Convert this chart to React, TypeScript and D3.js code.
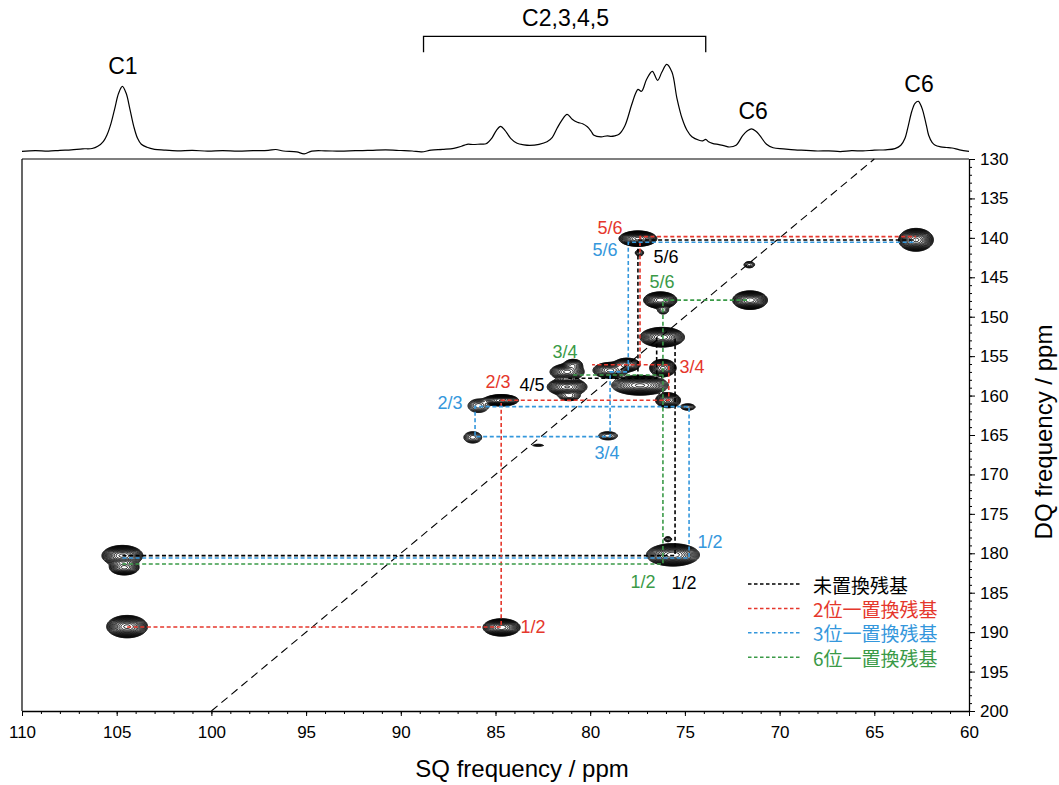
import React, { useEffect, useRef } from 'react'
import * as d3 from 'd3'

const WIDTH = 1059
const HEIGHT = 785
const PLOT = { left: 22, right: 969, top: 159, bottom: 711 }

const RED = '#e5372c'
const BLUE = '#3497dc'
const GREEN = '#3a9a47'
const BLACK = '#000000'
const FONT = 'Arial, "Liberation Sans", sans-serif'
const CJK = '"Noto Sans CJK JP", "Noto Sans CJK SC", sans-serif'

const sqMajor = [110, 105, 100, 95, 90, 85, 80, 75, 70, 65, 60]
const dqMajor = [130, 135, 140, 145, 150, 155, 160, 165, 170, 175, 180, 185, 190, 195, 200]

// 1D projection on top: [ppm, height]
const projection: [number, number][] = [
  [110.0, 0], [109.3, 0.6], [108.6, 0.2], [108.0, 1.0], [107.4, 1.5], [106.8, 2.5], [106.3, 2.8],
  [106.0, 5], [105.7, 10], [105.5, 17], [105.3, 28], [105.1, 43], [104.9, 58], [104.7, 65],
  [104.5, 58], [104.3, 42], [104.1, 25], [103.9, 13], [103.7, 7], [103.4, 4], [103.0, 2],
  [102.5, 1.2], [101.8, 0.5], [101.0, 0.9], [100.2, 0.2], [99.4, 0.7], [98.6, 0.1], [97.8, 0.6],
  [97.0, 0.9], [96.6, 1.8], [96.2, 0.3], [95.5, -0.5], [95.1, -2.5], [94.7, 0.2], [94.0, 0.5],
  [93.2, 0.1], [92.4, 0.6], [91.6, 0.9], [90.8, 1.4], [90.0, 0.8], [89.4, 0.3], [88.9, -0.6],
  [88.4, 1.2], [87.8, 2], [87.2, 3], [86.8, 5], [86.5, 7], [86.19, 6.8], [85.8, 7.2], [85.5, 7.5],
  [85.2, 13], [84.95, 21], [84.73, 25], [84.5, 21], [84.2, 13], [83.86, 8], [83.5, 6.5],
  [83.19, 6], [82.7, 7], [82.28, 9.5], [82.0, 14], [81.75, 23], [81.5, 31], [81.22, 37],
  [80.95, 32], [80.68, 29], [80.4, 27.5], [80.15, 24.5], [79.95, 20], [79.8, 16], [79.43, 14.5],
  [79.1, 15.5], [78.9, 15], [78.7, 15.5], [78.48, 17], [78.18, 25], [77.82, 46], [77.6, 58],
  [77.48, 62], [77.29, 60], [77.02, 72], [76.72, 80], [76.44, 71], [76.22, 79], [75.96, 87],
  [75.68, 79], [75.42, 53], [75.15, 33], [74.89, 21], [74.63, 14.5], [74.25, 11], [74.05, 10.5],
  [73.9, 12], [73.75, 9.5], [73.55, 8], [73.2, 6.7], [72.9, 5.5], [72.66, 4.3], [72.3, 6],
  [71.94, 16], [71.7, 20.5], [71.49, 22.5], [71.25, 20], [71.05, 16], [70.69, 7], [70.34, 3.5],
  [69.8, 2.5], [69.2, 1.5], [68.6, 1.0], [68.0, 0.3], [67.4, 0.5], [66.8, -0.3], [66.2, 0.6],
  [65.6, 0.4], [65.0, 1.2], [64.4, 1.5], [63.91, 2.7], [63.6, 6], [63.38, 13], [63.2, 26],
  [63.02, 40], [62.85, 48], [62.67, 50], [62.5, 44], [62.4, 38], [62.25, 26], [62.13, 16],
  [61.95, 9], [61.78, 6], [61.5, 4.5], [61.2, 3.8], [60.9, 3.3], [60.5, 1.5], [60.0, 0]
]

// labels over the projection: [text, ppm, height]
const projLabels: [string, number, number][] = [
  ['C1', 104.67, 85], ['C2,3,4,5', 81.3, 133], ['C6', 71.4, 40], ['C6', 62.64, 67]
]
const bracketSq = [88.8, 73.9]
const bracketH = [99, 115]

// cross peaks: [sq, dq, half width sq, half width dq, amplitude]
const crossPeaks: [number, number, number, number, number][] = [
  [77.48, 140.1, 1.0, 0.98, 40],
  [77.4, 141.9, 0.22, 0.4, 3],
  [62.8, 140.25, 0.92, 1.45, 40],
  [71.6, 143.4, 0.28, 0.4, 3],
  [76.3, 147.9, 0.88, 1.05, 35],
  [76.15, 149.2, 0.28, 0.46, 3],
  [71.56, 147.9, 0.92, 1.18, 35],
  [76.2, 152.6, 1.18, 1.25, 45],
  [81.22, 157.0, 0.9, 1.0, 20],
  [81.22, 158.9, 1.05, 1.1, 30],
  [81.1, 160.1, 0.55, 0.55, 6],
  [80.9, 156.1, 0.48, 0.7, 8],
  [78.95, 156.8, 0.9, 1.0, 20],
  [78.06, 156.1, 0.7, 0.85, 15],
  [77.37, 158.7, 1.5, 1.25, 40],
  [76.16, 156.5, 0.7, 1.1, 25],
  [75.89, 160.6, 0.66, 0.95, 20],
  [74.84, 161.45, 0.38, 0.4, 4],
  [84.7, 160.6, 0.92, 0.72, 30],
  [85.9, 161.3, 0.55, 0.85, 5],
  [86.2, 165.3, 0.47, 0.72, 5],
  [79.06, 165.1, 0.5, 0.52, 4],
  [82.75, 166.3, 0.3, 0.12, 2],
  [104.7, 180.3, 1.08, 1.3, 40],
  [104.6, 181.8, 0.78, 0.95, 20],
  [75.63, 180.2, 1.4, 1.42, 45],
  [75.9, 178.2, 0.2, 0.3, 3],
  [104.45, 189.3, 1.08, 1.42, 40],
  [84.68, 189.4, 0.98, 1.1, 35]
]

// DQ = 2 x SQ diagonal
const diagonal: [number, number][] = [[100, 200], [65, 130]]

// correlation walks, [sq, dq] points
const blackLinks: [number, number][][] = [
  [[104.7, 180.3], [75.52, 180.3], [75.52, 152.6]],
  [[76.49, 152.6], [76.49, 157.8], [81.2, 157.8]],
  [[77.48, 157.8], [77.48, 140.27], [62.8, 140.27]]
]
const redLinks: [number, number][][] = [
  [[104.45, 189.35], [84.7, 189.35], [84.7, 160.6], [75.85, 160.6], [75.85, 156.1], [79.9, 156.1]],
  [[77.37, 156.1], [77.37, 139.85], [62.8, 139.85]]
]
const blueLinks: [number, number][][] = [
  [[104.7, 180.6], [74.78, 180.6], [74.78, 161.4], [86.08, 161.4], [86.08, 165.2], [78.95, 165.2],
    [78.95, 157.0], [77.99, 157.0], [77.99, 140.56], [62.8, 140.56]]
]
const greenLinks: [number, number][][] = [
  [[104.7, 181.35], [76.16, 181.35], [76.16, 147.9], [71.56, 147.9]],
  [[80.9, 157.4], [76.16, 157.4]]
]
const linkSets: [[number, number][][], string][] = [
  [blackLinks, BLACK], [redLinks, RED], [blueLinks, BLUE], [greenLinks, GREEN]
]

// assignment labels: [text, sq, dq, colour]
const crossLabels: [string, number, number, string][] = [
  ['5/6', 78.96, 138.75, RED],
  ['5/6', 79.22, 141.54, BLUE],
  ['5/6', 76.0, 142.43, BLACK],
  ['5/6', 76.21, 145.6, GREEN],
  ['3/4', 81.33, 154.47, GREEN],
  ['3/4', 74.63, 156.38, RED],
  ['2/3', 84.87, 158.28, RED],
  ['4/5', 83.07, 158.66, BLACK],
  ['2/3', 87.4, 160.94, BLUE],
  ['3/4', 79.11, 167.28, BLUE],
  ['1/2', 73.67, 178.57, BLUE],
  ['1/2', 77.21, 183.64, GREEN],
  ['1/2', 75.05, 183.77, BLACK],
  ['1/2', 83.02, 189.35, RED]
]

const legendItems: [string, string][] = [
  ['未置換残基', BLACK], ['2位一置換残基', RED], ['3位一置換残基', BLUE], ['6位一置換残基', GREEN]
]

function DqSpectrum() {
  const ref = useRef<SVGSVGElement>(null)

  useEffect(() => {
    const svg = d3.select(ref.current)
    svg.selectAll('*').remove()

    const x = d3.scaleLinear().domain([110, 60]).range([PLOT.left, PLOT.right])
    const y = d3.scaleLinear().domain([130, 200]).range([PLOT.top, PLOT.bottom])
    const yI = d3.scaleLinear().domain([0, 100]).range([151.3, 51.3])

    // contour map
    const n = Math.round(PLOT.right - PLOT.left)
    const m = Math.round(PLOT.bottom - PLOT.top)
    const grid = new Float64Array(n * m)
    crossPeaks.forEach(([sq, dq, hx, hy, amp]) => {
      const k = Math.sqrt(2 * Math.log(amp))
      const sx = Math.abs(x(sq + hx / k) - x(sq))
      const sy = Math.abs(y(dq + hy / k) - y(dq))
      const cx = x(sq) - PLOT.left
      const cy = y(dq) - PLOT.top
      const i0 = Math.max(0, Math.floor(cx - 4 * sx))
      const i1 = Math.min(n - 1, Math.ceil(cx + 4 * sx))
      const j0 = Math.max(0, Math.floor(cy - 4 * sy))
      const j1 = Math.min(m - 1, Math.ceil(cy + 4 * sy))
      for (let j = j0; j <= j1; j++) {
        const dy = (j + 0.5 - cy) / sy
        for (let i = i0; i <= i1; i++) {
          const dx = (i + 0.5 - cx) / sx
          grid[j * n + i] += amp * Math.exp(-0.5 * (dx * dx + dy * dy))
        }
      }
    })
    const levels = d3.range(18).map(k => Math.pow(1.27, k))
    const contours = d3.contours().size([n, m]).thresholds(levels)(grid as unknown as number[])

    // diagonal
    const line = d3.line<[number, number]>().x(d => x(d[0])).y(d => y(d[1]))
    svg.append('path')
      .datum(diagonal)
      .attr('d', line)
      .attr('fill', 'none')
      .attr('stroke', '#000')
      .attr('stroke-width', 1.1)
      .attr('stroke-dasharray', '8 5')

    svg.append('g')
      .attr('transform', `translate(${PLOT.left},${PLOT.top})`)
      .selectAll('path')
      .data(contours)
      .join('path')
      .attr('d', d3.geoPath())
      .attr('fill', 'none')
      .attr('stroke', '#000')
      .attr('stroke-width', 1)

    // correlation lines
    linkSets.forEach(([paths, color]) => {
      svg.append('g')
        .selectAll('path')
        .data(paths)
        .join('path')
        .attr('d', line)
        .attr('fill', 'none')
        .attr('stroke', color)
        .attr('stroke-width', 1.6)
        .attr('stroke-dasharray', '4 2.6')
    })

    // frame
    svg.append('line')
      .attr('x1', PLOT.left).attr('x2', PLOT.right)
      .attr('y1', PLOT.top).attr('y2', PLOT.top)
      .attr('stroke', '#000').attr('stroke-width', 1.2)
    svg.append('line')
      .attr('x1', PLOT.left).attr('x2', PLOT.left)
      .attr('y1', PLOT.top).attr('y2', PLOT.bottom)
      .attr('stroke', '#000').attr('stroke-width', 1.2)

    // axes
    const xMinor = svg.append('g')
      .attr('transform', `translate(0,${PLOT.bottom})`)
      .call(d3.axisBottom(x).tickValues(d3.range(60, 111, 1)).tickSize(3).tickSizeOuter(0).tickFormat(() => ''))
    xMinor.select('.domain').remove()
    const xAxis = svg.append('g')
      .attr('transform', `translate(0,${PLOT.bottom})`)
      .call(d3.axisBottom(x).tickValues(sqMajor).tickSize(5).tickSizeOuter(0).tickPadding(10).tickFormat(d3.format('d')))
    xAxis.select('.domain').attr('stroke-width', 1.3)
    xAxis.selectAll('text').attr('font-size', 17).attr('font-family', FONT)

    const yMinor = svg.append('g')
      .attr('transform', `translate(${PLOT.right},0)`)
      .call(d3.axisRight(y).tickValues(d3.range(130, 201, 1)).tickSize(3).tickSizeOuter(0).tickFormat(() => ''))
    yMinor.select('.domain').remove()
    const yAxis = svg.append('g')
      .attr('transform', `translate(${PLOT.right},0)`)
      .call(d3.axisRight(y).tickValues(dqMajor).tickSize(6).tickSizeOuter(0).tickPadding(5).tickFormat(d3.format('d')))
    yAxis.select('.domain').attr('stroke-width', 1.3)
    yAxis.selectAll('text').attr('font-size', 17).attr('font-family', FONT)

    svg.append('text')
      .attr('x', 522).attr('y', 768)
      .attr('text-anchor', 'middle').attr('dominant-baseline', 'central')
      .attr('font-size', 24).attr('font-family', FONT)
      .text('SQ frequency / ppm')
    svg.append('text')
      .attr('transform', 'translate(1043,432) rotate(-90)')
      .attr('text-anchor', 'middle').attr('dominant-baseline', 'central')
      .attr('font-size', 24).attr('font-family', FONT)
      .text('DQ frequency / ppm')

    // projection
    const proj = d3.line<[number, number]>()
      .curve(d3.curveCatmullRom.alpha(0.5))
      .x(d => x(d[0]))
      .y(d => yI(d[1]))
    svg.append('path')
      .datum(projection)
      .attr('d', proj)
      .attr('fill', 'none')
      .attr('stroke', '#000')
      .attr('stroke-width', 1.2)

    svg.append('path')
      .attr('d', `M${x(bracketSq[0])},${yI(bracketH[0])}V${yI(bracketH[1])}H${x(bracketSq[1])}V${yI(bracketH[0])}`)
      .attr('fill', 'none')
      .attr('stroke', '#000')
      .attr('stroke-width', 1.3)

    svg.append('g')
      .selectAll('text')
      .data(projLabels)
      .join('text')
      .attr('x', d => x(d[1]))
      .attr('y', d => yI(d[2]))
      .attr('text-anchor', 'middle').attr('dominant-baseline', 'central')
      .attr('font-size', 23).attr('font-family', FONT)
      .text(d => d[0])

    // assignment labels
    svg.append('g')
      .selectAll('text')
      .data(crossLabels)
      .join('text')
      .attr('x', d => x(d[1]))
      .attr('y', d => y(d[2]))
      .attr('fill', d => d[3])
      .attr('text-anchor', 'middle').attr('dominant-baseline', 'central')
      .attr('font-size', 18).attr('font-family', FONT)
      .text(d => d[0])

    // legend
    const legend = svg.append('g').attr('transform', 'translate(748,584)')
    legendItems.forEach(([label, color], i) => {
      const row = legend.append('g').attr('transform', `translate(0,${i * 24.4})`)
      row.append('line')
        .attr('x1', 0).attr('x2', 52)
        .attr('stroke', color).attr('stroke-width', 1.5)
        .attr('stroke-dasharray', '3.5 2.5')
      row.append('text')
        .attr('x', 65)
        .attr('dominant-baseline', 'central')
        .attr('fill', color)
        .attr('font-size', 19).attr('font-family', CJK)
        .text(label)
    })
  }, [])

  return (
    <svg
      ref={ref}
      width={WIDTH}
      height={HEIGHT}
      style={{ position: 'absolute', left: 0, top: 0, background: '#fff' }}
    />
  )
}

export default function App() {
  return <DqSpectrum />
}
